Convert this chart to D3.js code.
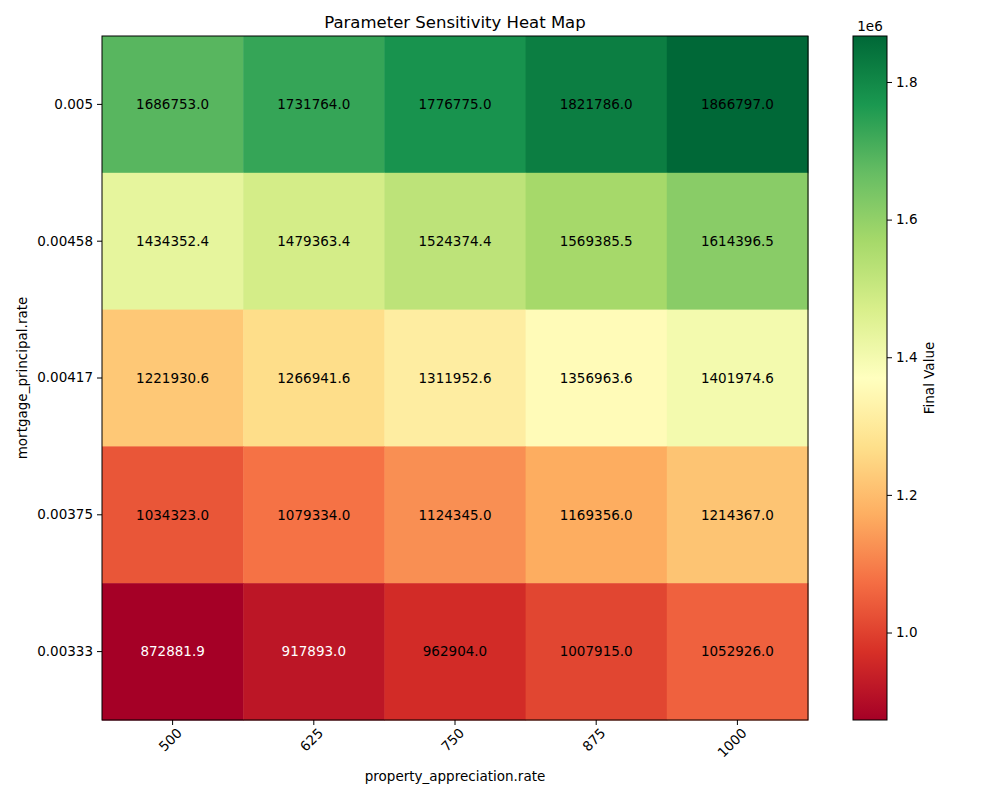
<!DOCTYPE html>
<html>
<head>
<meta charset="utf-8">
<script src="https://cdn.jsdelivr.net/npm/d3@7"></script>
<style>
  body { margin: 0; background: #fff; }
  text { font-family: "DejaVu Sans", sans-serif; }
</style>
</head>
<body>
<svg id="chart" width="1000" height="800"></svg>
<script>
// columns / rows of the grid
var xLabels = ["500", "625", "750", "875", "1000"];
var yLabels = ["0.005", "0.00458", "0.00417", "0.00375", "0.00333"];

// final values, one array per row (top to bottom)
var row0 = [1686753.0, 1731764.0, 1776775.0, 1821786.0, 1866797.0];
var row1 = [1434352.4, 1479363.4, 1524374.4, 1569385.5, 1614396.5];
var row2 = [1221930.6, 1266941.6, 1311952.6, 1356963.6, 1401974.6];
var row3 = [1034323.0, 1079334.0, 1124345.0, 1169356.0, 1214367.0];
var row4 = [872881.9, 917893.0, 962904.0, 1007915.0, 1052926.0];
var rows = [row0, row1, row2, row3, row4];

var cbTicks = [1.0e6, 1.2e6, 1.4e6, 1.6e6, 1.8e6];

var svg = d3.select("#chart");
var plot = {left: 102, top: 36, right: 808, bottom: 720};
var cb = {left: 853, right: 887};

var cells = [];
rows.forEach(function(r, i) {
  r.forEach(function(v, j) {
    cells.push({row: yLabels[i], col: xLabels[j], value: v});
  });
});

var vmin = d3.min(cells, function(d) { return d.value; });
var vmax = d3.max(cells, function(d) { return d.value; });

// RdYlGn as matplotlib builds it: linear between the 11 brewer colours
var brewer = d3.schemeRdYlGn[11];
var colorNorm = d3.scaleLinear()
  .domain(d3.range(11).map(function(k) { return k / 10; }))
  .range(brewer)
  .interpolate(d3.interpolateRgb);
function color(v) { return colorNorm((v - vmin) / (vmax - vmin)); }

var x = d3.scaleBand().domain(xLabels).range([plot.left, plot.right]);
var y = d3.scaleBand().domain(yLabels).range([plot.top, plot.bottom]);

svg.append("g").selectAll("rect")
  .data(cells)
  .enter().append("rect")
  .attr("x", function(d) { return x(d.col); })
  .attr("y", function(d) { return y(d.row); })
  .attr("width", x.bandwidth() + 0.5)
  .attr("height", y.bandwidth() + 0.5)
  .attr("fill", function(d) { return color(d.value); });

svg.append("g").selectAll("text")
  .data(cells)
  .enter().append("text")
  .attr("x", function(d) { return x(d.col) + x.bandwidth() / 2; })
  .attr("y", function(d) { return y(d.row) + y.bandwidth() / 2; })
  .attr("dy", "0.35em")
  .attr("text-anchor", "middle")
  .style("font-size", "13.5px")
  .style("fill", function(d) {
    return (d.value - vmin) / (vmax - vmin) < 0.07 ? "#fff" : "#000";
  })
  .text(function(d) { return d.value.toFixed(1); });

svg.append("rect")
  .attr("x", plot.left).attr("y", plot.top)
  .attr("width", plot.right - plot.left).attr("height", plot.bottom - plot.top)
  .attr("fill", "none").attr("stroke", "#000").attr("stroke-width", 1);

var xAxis = svg.append("g")
  .attr("transform", "translate(0," + plot.bottom + ")")
  .call(d3.axisBottom(x).tickSize(5).tickPadding(4));
xAxis.select(".domain").remove();
xAxis.selectAll("text")
  .style("font-size", "13.5px")
  .attr("text-anchor", "end")
  .attr("dx", "-0.2em").attr("dy", "0.6em")
  .attr("transform", "rotate(-45)");

var yAxis = svg.append("g")
  .attr("transform", "translate(" + plot.left + ",0)")
  .call(d3.axisLeft(y).tickSize(5).tickPadding(4));
yAxis.select(".domain").remove();
yAxis.selectAll("text").style("font-size", "13.5px");

svg.append("text")
  .attr("x", (plot.left + plot.right) / 2).attr("y", 28)
  .attr("text-anchor", "middle").style("font-size", "16.5px")
  .text("Parameter Sensitivity Heat Map");

svg.append("text")
  .attr("x", (plot.left + plot.right) / 2).attr("y", 781)
  .attr("text-anchor", "middle").style("font-size", "13.5px")
  .text("property_appreciation.rate");

svg.append("text")
  .attr("transform", "translate(27," + (plot.top + plot.bottom) / 2 + ") rotate(-90)")
  .attr("text-anchor", "middle").style("font-size", "13.5px")
  .text("mortgage_principal.rate");

// colorbar
var cbScale = d3.scaleLinear().domain([vmin, vmax]).range([plot.bottom, plot.top]);
var defs = svg.append("defs");
var grad = defs.append("linearGradient")
  .attr("id", "cbgrad").attr("x1", 0).attr("y1", 1).attr("x2", 0).attr("y2", 0);
d3.range(0, 1.0001, 0.05).forEach(function(t) {
  grad.append("stop").attr("offset", t).attr("stop-color", colorNorm(t));
});
svg.append("rect")
  .attr("x", cb.left).attr("y", plot.top)
  .attr("width", cb.right - cb.left).attr("height", plot.bottom - plot.top)
  .attr("fill", "url(#cbgrad)").attr("stroke", "#000").attr("stroke-width", 1);

var cbAxis = svg.append("g")
  .attr("transform", "translate(" + cb.right + ",0)")
  .call(d3.axisRight(cbScale).tickValues(cbTicks).tickSize(5).tickPadding(4)
    .tickFormat(function(d) { return (d / 1e6).toFixed(1); }));
cbAxis.select(".domain").remove();
cbAxis.selectAll("text").style("font-size", "13.5px");

svg.append("text")
  .attr("x", cb.left + 17).attr("y", 31)
  .attr("text-anchor", "middle").style("font-size", "13.5px")
  .text("1e6");

svg.append("text")
  .attr("transform", "translate(934," + (plot.top + plot.bottom) / 2 + ") rotate(-90)")
  .attr("text-anchor", "middle").style("font-size", "13.5px")
  .text("Final Value");
</script>
</body>
</html>
